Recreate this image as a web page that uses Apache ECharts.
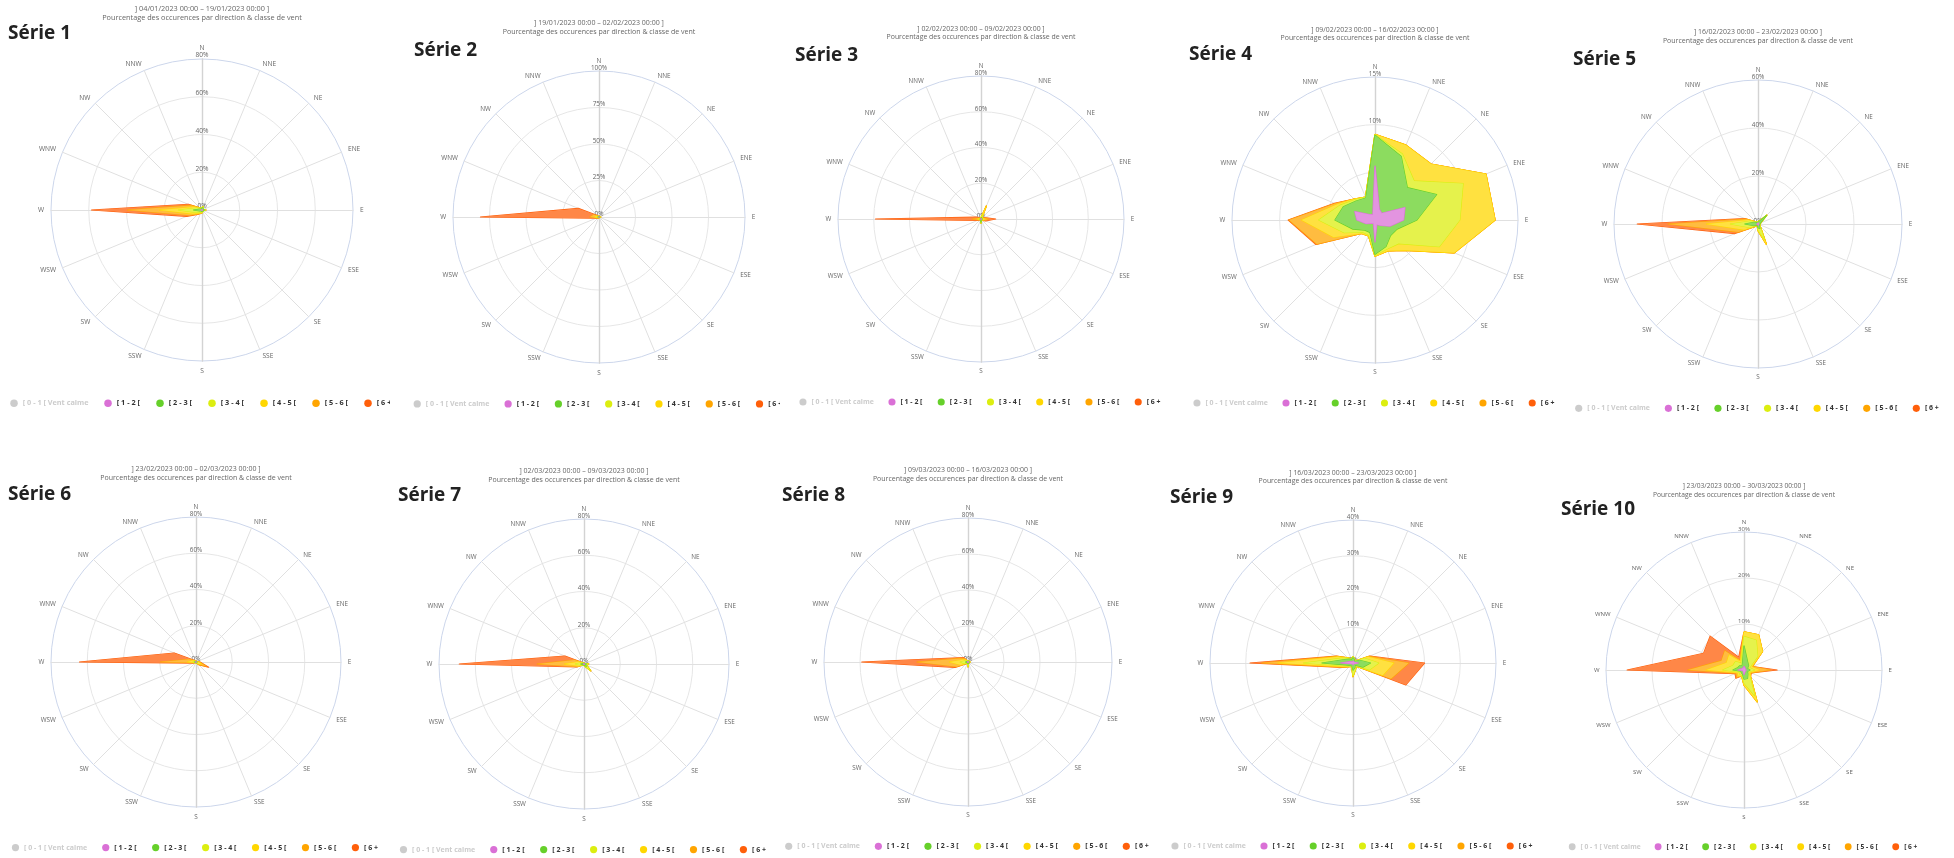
<!DOCTYPE html>
<html>
<head>
<meta charset="utf-8">
<script src="https://cdn.jsdelivr.net/npm/echarts@6/dist/echarts.min.js"></script>
<style>
html,body{margin:0;padding:0;background:#fff;width:1954px;height:858px;overflow:hidden;}
.cell{position:absolute;}
</style>
</head>
<body>
<script>
// ---------------- DATA ----------------
const directions = ['N','NNE','NE','ENE','E','ESE','SE','SSE','S','SSW','SW','WSW','W','WNW','NW','NNW'];
const classNames = ['[ 0 - 1 [ Vent calme','[ 1 - 2 [','[ 2 - 3 [','[ 3 - 4 [','[ 4 - 5 [','[ 5 - 6 [','[ 6 +'];
const chartTitles = ['Série 1','Série 2','Série 3','Série 4','Série 5','Série 6','Série 7','Série 8','Série 9','Série 10'];
const periods = [
  '] 04/01/2023 00:00 – 19/01/2023 00:00 ]',
  '] 19/01/2023 00:00 – 02/02/2023 00:00 ]',
  '] 02/02/2023 00:00 – 09/02/2023 00:00 ]',
  '] 09/02/2023 00:00 – 16/02/2023 00:00 ]',
  '] 16/02/2023 00:00 – 23/02/2023 00:00 ]',
  '] 23/02/2023 00:00 – 02/03/2023 00:00 ]',
  '] 02/03/2023 00:00 – 09/03/2023 00:00 ]',
  '] 09/03/2023 00:00 – 16/03/2023 00:00 ]',
  '] 16/03/2023 00:00 – 23/03/2023 00:00 ]',
  '] 23/03/2023 00:00 – 30/03/2023 00:00 ]'
];
const subtitleText = 'Pourcentage des occurences par direction & classe de vent';
const axisMax = [80,100,80,15,60,80,80,80,40,30];
const axisInterval = [20,25,20,5,20,20,20,20,10,10];

// values (%) per class, direction order N, NNE, ... NNW
const s1_12 = [0.3,0.3,0.2,0.2,0.3,0.2,0.2,0.2,0.2,0.2,0.2,0.3,0.5,0.3,0.2,0.2];
const s1_23 = [0.8,1.0,0.5,0.5,1.0,0.5,0.5,0.5,0.5,0.5,0.5,1.0,4.0,1.0,0.5,0.5];
const s1_34 = [0.3,0.5,0.3,0.2,0.5,0.2,0.3,0.2,0.5,0.5,0.8,2.0,8.0,1.5,0.5,0.3];
const s1_45 = [0,0,0,0,0.3,0,0,0,0.3,0.5,1.0,2.0,10.0,1.5,0.3,0];
const s1_56 = [0,0,0,0,0,0,0,0,0,0.3,0.5,2.0,17.0,2.0,0.2,0];
const s1_6p = [0,0,0,0,0,0,0,0,0,0,0.3,1.5,19.0,1.5,0,0];

const s2_12 = [0.2,0.2,0.1,0.1,0.2,0.1,0.1,0.1,0.1,0.1,0.1,0.1,0.2,0.1,0.1,0.1];
const s2_23 = [0.3,0.2,0.2,0.2,0.3,0.2,0.2,0.2,0.2,0.2,0.2,0.2,0.5,0.3,0.1,0.2];
const s2_34 = [0.2,0.1,0.1,0.1,0.3,0.2,0.1,0.1,0.2,0.1,0.2,0.3,1.0,0.5,0.2,0.1];
const s2_45 = [0,0,0,0,0.3,0.2,0,0,0.1,0.1,0.2,0.5,1.5,1.0,0.3,0];
const s2_56 = [0,0,0,0,0.2,0.1,0,0,0,0,0.2,0.5,3.0,2.0,0.3,0];
const s2_6p = [0,0,0,0,0,0,0,0,0,0,0.2,0.5,75.0,11.5,0.5,0];

const s3_12 = [0.2,0.3,0.1,0.1,0.2,0.2,0.1,0.1,0.3,0.1,0.1,0.1,0.2,0.1,0.1,0.1];
const s3_23 = [0.3,0.5,0.2,0.2,0.5,0.3,0.2,0.3,1.5,0.3,0.2,0.1,0.3,0.1,0.2,0.2];
const s3_34 = [0.2,2.0,0.2,0.3,0.5,0.3,0.2,0.2,0.5,0.2,0.2,0.2,0.5,0.2,0.1,0.1];
const s3_45 = [0,5.0,0.2,0.5,1.0,0.5,0.2,0,0,0,0.1,0.3,1.0,0.3,0.1,0];
const s3_56 = [0,0,0,0.5,2.0,0.5,0.2,0,0,0,0,0.5,3.0,0.5,0,0];
const s3_6p = [0,0,0,0.5,4.0,1.0,0.2,0,0,0,0,1.0,54.0,1.5,0,0];

const s4_12 = [5.7,1.2,1.0,3.4,3.0,1.7,0.8,0.5,2.3,0.4,0.5,1.0,1.9,2.3,0.8,0.6];
const s4_23 = [3.2,6.0,3.8,3.6,1.4,0.8,1.5,2.5,1.3,1.0,1.0,1.5,2.3,1.3,2.0,1.9];
const s4_34 = [0.05,0.3,1.0,3.0,4.5,4.8,1.2,0.3,0.1,0.3,0.3,1.0,1.7,0.4,0.2,0.1];
const s4_45 = [0.05,1.0,2.5,2.6,3.7,1.7,1.0,0.2,0.1,0.1,0.2,1.2,1.8,0.3,0.1,0];
const s4_56 = [0,0,0,0,0,0,0,0,0,0,0,1.9,1.3,0.2,0,0];
const s4_6p = [0,0,0,0,0,0,0,0,0,0,0,0.1,0.1,0.1,0,0];

const s5_12 = [0.3,0.3,0.5,0.3,0.3,0.2,0.3,0.5,0.5,0.2,0.2,0.3,0.5,0.3,0.3,0.3];
const s5_23 = [0.5,0.7,4.4,0.7,0.5,0.3,0.5,1.5,1.0,0.3,0.3,1.5,5.0,1.5,0.5,0.5];
const s5_34 = [0.2,0.3,0.3,0.2,0.2,0.2,0.3,5.0,1.0,0.2,0.3,2.0,6.0,1.5,0.3,0.2];
const s5_45 = [0,0,0,0,0,0,0.2,2.2,0.3,0.1,0.3,2.5,10.0,1.0,0.2,0];
const s5_56 = [0,0,0,0,0,0,0,0,0,0,0.2,2.5,16.0,1.0,0,0];
const s5_6p = [0,0,0,0,0,0,0,0,0,0,0.1,1.6,12.8,0.7,0,0];

const s6_12 = [0.2,0.1,0.1,0.1,0.2,0.2,0.2,0.1,0.1,0.1,0.1,0.1,0.2,0.2,0.1,0.1];
const s6_23 = [0.2,0.2,0.1,0.2,0.3,0.3,0.3,0.2,0.2,0.1,0.1,0.2,0.5,0.3,0.2,0.1];
const s6_34 = [0.1,0.1,0.1,0.1,0.4,0.5,0.3,0.1,0.1,0.1,0.1,0.2,1.0,0.5,0.2,0.1];
const s6_45 = [0,0,0,0,0.5,2.0,0.5,0,0,0,0,0.3,3.0,1.0,0.2,0];
const s6_56 = [0,0,0,0,0.5,3.0,0.5,0,0,0,0,0.3,15.0,2.0,0.2,0];
const s6_6p = [0,0,0,0,0.3,1.5,0.2,0,0,0,0,0.5,44.6,9.0,0.5,0];

const s7_12 = [0.2,0.1,0.1,0.1,0.3,0.2,0.3,0.2,0.2,0.1,0.1,0.3,0.3,0.2,0.1,0.1];
const s7_23 = [0.3,0.2,0.2,0.2,1.0,0.5,1.5,0.5,0.3,0.2,0.2,0.5,1.5,0.5,0.2,0.2];
const s7_34 = [0.1,0.1,0.1,0.1,1.0,0.5,3.0,0.5,0.2,0.1,0.2,1.0,3.0,1.0,0.2,0.1];
const s7_45 = [0,0,0,0,0.3,0.2,0.5,0.2,0,0,0.1,1.0,6.0,1.5,0.2,0];
const s7_56 = [0,0,0,0,0,0,0,0,0,0,0.1,1.0,15.0,2.5,0.2,0];
const s7_6p = [0,0,0,0,0,0,0,0,0,0,0,0.5,43.0,5.7,0.3,0];

const s8_12 = [0.2,0.2,0.2,0.2,0.3,0.2,0.2,0.2,0.3,0.2,0.2,0.3,0.3,0.2,0.2,0.2];
const s8_23 = [0.3,0.3,0.3,0.3,0.5,0.3,0.3,0.3,0.7,0.3,0.3,0.5,1.0,0.5,0.3,0.2];
const s8_34 = [0.2,0.2,0.2,0.2,0.3,0.3,0.3,0.3,1.5,0.3,0.3,1.5,3.0,1.0,0.5,0.2];
const s8_45 = [0,0,0,0,0,0,0,0,0.2,0.1,0.2,2.0,6.0,1.5,0.5,0];
const s8_56 = [0,0,0,0,0,0,0,0,0,0,0.2,2.5,18.0,2.0,1.0,0];
const s8_6p = [0,0,0,0,0,0,0,0,0,0,0.1,1.0,30.7,0.8,1.0,0];

const s9_12 = [0.5,0.5,0.3,0.5,1.5,0.5,0.3,0.4,0.5,0.3,0.3,0.5,3.5,1.0,0.5,0.4];
const s9_23 = [1.0,0.5,0.3,1.5,3.4,2.5,0.5,1.0,1.5,0.5,0.7,1.0,5.2,1.5,1.0,0.6];
const s9_34 = [0.3,0.2,0.2,1.5,2.3,2.0,0.3,0.5,1.5,0.2,0.3,0.7,5.1,1.0,0.3,0.2];
const s9_45 = [0,0,0,1.0,4.2,4.0,0.2,0,0.3,0,0.1,0.5,7.2,1.0,0.2,0];
const s9_56 = [0,0,0,0.3,4.2,2.5,0,0,0,0,0,0.3,4.5,0.3,0,0];
const s9_6p = [0,0,0,0.3,4.4,4.5,0,0,0,0,0,0.2,3.3,0.2,0,0];

const s10_12 = [0.8,0.5,0.4,0.3,0.5,0.3,0.4,0.5,1.0,0.4,0.3,0.3,1.3,0.6,0.5,0.4];
const s10_23 = [4.5,1.5,1.0,0.5,0.8,0.5,0.8,1.5,1.0,0.5,0.5,0.4,1.1,0.8,0.8,0.6];
const s10_34 = [2.0,5.0,2.8,0.5,1.0,0.3,0.5,4.0,0.8,0.3,0.5,0.4,2.2,1.2,1.3,0.6];
const s10_45 = [1.0,1.3,1.5,0.5,1.1,0.3,0.3,1.5,0.5,0.2,0.5,0.4,3.6,1.5,2.0,0.4];
const s10_56 = [0,0,0,0.2,2.3,0.2,0,0,0,0,0.4,0.3,4.0,1.2,1.3,0.3];
const s10_6p = [0,0,0,0,1.5,0.1,0,0,0,0,0.3,0.3,13.2,4.2,4.5,0.7];

const seriesTable = [
  [s1_12,s1_23,s1_34,s1_45,s1_56,s1_6p],
  [s2_12,s2_23,s2_34,s2_45,s2_56,s2_6p],
  [s3_12,s3_23,s3_34,s3_45,s3_56,s3_6p],
  [s4_12,s4_23,s4_34,s4_45,s4_56,s4_6p],
  [s5_12,s5_23,s5_34,s5_45,s5_56,s5_6p],
  [s6_12,s6_23,s6_34,s6_45,s6_56,s6_6p],
  [s7_12,s7_23,s7_34,s7_45,s7_56,s7_6p],
  [s8_12,s8_23,s8_34,s8_45,s8_56,s8_6p],
  [s9_12,s9_23,s9_34,s9_45,s9_56,s9_6p],
  [s10_12,s10_23,s10_34,s10_45,s10_56,s10_6p]
];

// ---------------- LAYOUT / STYLE ----------------
const classColors = ['#c8c8c8','#DA70D6','#66D02A','#DCEE10','#FFD700','#FFA500','#FF5F0A'];
const FONT = '"Open Sans", "Noto Sans", sans-serif';
const layouts = [
  {left:0,    top:0,   w:390, h:430, cx:202, cy:210, r:151, tx:8,  ty:24},
  {left:390,  top:0,   w:390, h:430, cx:209, cy:217, r:146, tx:24, ty:41},
  {left:780,  top:0,   w:390, h:430, cx:201, cy:219, r:143, tx:15, ty:46},
  {left:1170, top:0,   w:390, h:430, cx:205, cy:220, r:143, tx:19, ty:45},
  {left:1560, top:0,   w:394, h:430, cx:198, cy:224, r:144, tx:13, ty:50},
  {left:0,    top:430, w:390, h:428, cx:196, cy:232, r:145, tx:8,  ty:55},
  {left:390,  top:430, w:390, h:428, cx:194, cy:234, r:145, tx:8,  ty:56},
  {left:780,  top:430, w:390, h:428, cx:188, cy:232, r:144, tx:2,  ty:56},
  {left:1170, top:430, w:390, h:428, cx:183, cy:233, r:143, tx:0,  ty:58},
  {left:1560, top:430, w:394, h:428, cx:184, cy:240, r:138, tx:1,  ty:70}
];

function mixWhite(hex, a) {
  const n = parseInt(hex.slice(1), 16);
  const f = c => Math.round(c * a + 255 * (1 - a));
  return 'rgb(' + f((n >> 16) & 255) + ',' + f((n >> 8) & 255) + ',' + f(n & 255) + ')';
}

// ECharts radar goes counter-clockwise: reorder so N is on top and directions run clockwise
const order = [0,15,14,13,12,11,10,9,8,7,6,5,4,3,2,1];

layouts.forEach((L, i) => {
  const div = document.createElement('div');
  div.className = 'cell';
  div.style.left = L.left + 'px';
  div.style.top = L.top + 'px';
  div.style.width = L.w + 'px';
  div.style.height = L.h + 'px';
  document.body.appendChild(div);
  const chart = echarts.init(div, null, {renderer: 'canvas'});

  const k = L.r / 151;
  const classes = seriesTable[i];
  const cum = [];
  classes.forEach((arr, c) => {
    cum.push(arr.map((v, d) => v + (c > 0 ? cum[c - 1][d] : 0)));
  });
  const nTicks = Math.round(axisMax[i] / axisInterval[i]) + 1;
  const splitColors = [];
  for (let t = 0; t < nTicks; t++) splitColors.push(t === nTicks - 1 ? '#ccd6eb' : '#e6e6e6');

  const indicator = order.map(d => {
    const o = {name: directions[d], min: 0, max: axisMax[i]};
    if (d === 0) {
      o.axisLabel = {show: true, formatter: '{value}%', align: 'center', verticalAlign: 'bottom',
        margin: 0, color: '#666', fontSize: 6.6 * k, fontFamily: FONT};
    }
    if (d === 0 || d === 8) {
      o.axisLine = {lineStyle: {color: '#d3d3d3', width: 1.4}};
    }
    return o;
  });

  const series = [{
    type: 'radar', name: classNames[0], data: [], symbol: 'none',
    itemStyle: {color: classColors[0]}
  }];
  for (let c = 5; c >= 0; c--) {
    const col = classColors[c + 1];
    series.push({
      type: 'radar',
      name: classNames[c + 1],
      symbol: 'none',
      itemStyle: {color: col},
      lineStyle: {color: col, width: 1.2},
      areaStyle: {color: mixWhite(col, 0.75), opacity: 1},
      emphasis: {disabled: true},
      data: [{value: order.map(d => cum[c][d]), name: classNames[c + 1]}]
    });
  }

  const dIcon = 7.5 * k;
  const fs = 7.3 * k;
  const lineH = 9 * k;
  const legendX0 = L.cx - 1.245 * L.r;
  const legendY = L.cy + 1.28 * L.r;
  const legends = classNames.map((n, j) => ({
    left: (j === 0 ? legendX0 : legendX0 + 94 * k + (j - 1) * 52 * k) - dIcon / 2,
    top: legendY - dIcon / 2,
    width: 300,
    orient: 'horizontal',
    padding: 0,
    icon: 'circle',
    itemWidth: dIcon, itemHeight: dIcon,
    inactiveColor: '#cccccc',
    selected: {[classNames[0]]: false},
    textStyle: {fontFamily: FONT, fontSize: fs, fontWeight: 'bold', color: '#333'},
    data: [n]
  }));

  chart.setOption({
    animation: false,
    textStyle: {fontFamily: FONT},
    title: [
      {text: chartTitles[i], left: L.tx, top: L.ty, padding: 0,
        textStyle: {fontFamily: FONT, fontSize: 19, fontWeight: 'bold', color: '#222'}},
      {text: periods[i] + '\n' + subtitleText, left: L.cx, top: L.cy - 1.33 * L.r - lineH / 2,
        textAlign: 'center', padding: 0,
        textStyle: {fontFamily: FONT, fontSize: 7.3 * k, fontWeight: 'normal', color: '#666', lineHeight: lineH}}
    ],
    legend: legends,
    radar: {
      center: [L.cx, L.cy],
      radius: L.r,
      startAngle: 90,
      shape: 'circle',
      splitNumber: Math.round(axisMax[i] / axisInterval[i]),
      indicator: indicator,
      nameGap: 7 * k,
      axisName: {color: '#666', fontSize: 6.6 * k, fontFamily: FONT},
      axisLine: {lineStyle: {color: '#e0e0e0', width: 1}},
      axisTick: {show: false},
      axisLabel: {show: false},
      splitLine: {lineStyle: {color: splitColors, width: 1}},
      splitArea: {show: false}
    },
    series: series
  });
});
</script>
</body>
</html>
